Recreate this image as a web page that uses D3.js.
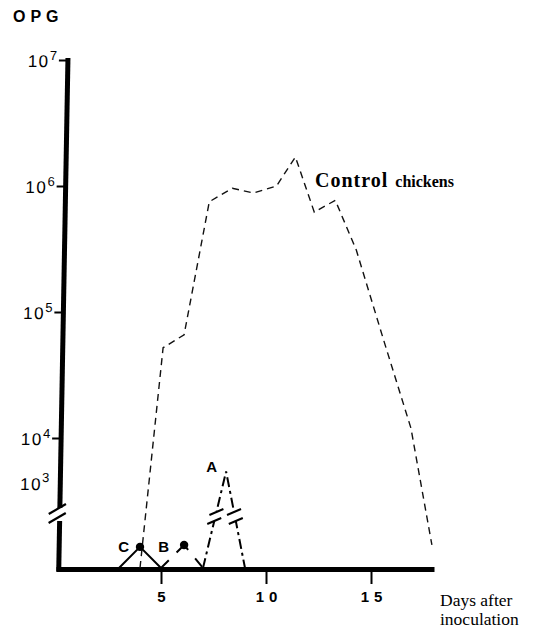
<!DOCTYPE html>
<html>
<head>
<meta charset="utf-8">
<script src="https://cdnjs.cloudflare.com/ajax/libs/d3/7.8.5/d3.min.js"></script>
<style>
	body { margin: 0; background: #fff; }
	svg { display: block; }
	.sans { font-family: "Liberation Sans", Arial, Helvetica, sans-serif; }
	.serif { font-family: "Liberation Serif", "Times New Roman", serif; }
	.x-axis text { font-family: "Liberation Sans", Arial, sans-serif; font-size: 15px; font-weight: bold; letter-spacing: 5px; fill: #000; }
	.y-axis text { font-family: "Liberation Sans", Arial, sans-serif; font-size: 17px; letter-spacing: 1.5px; fill: #000; }
</style>
</head>
<body>
<svg width="533" height="629"></svg>
<script>
// control chickens (dashed line)
var controlDays = [4, 5.1, 6.1, 7.3, 8.4, 9.4, 10.5, 11.4, 12.3, 13.3, 14.3, 15.6, 16.9, 17.9];
var controlOpg  = [0, 5.2e4, 6.6e4, 7.5e5, 9.6e5, 8.8e5, 1.0e6, 1.7e6, 6.2e5, 7.7e5, 3.1e5, 6.0e4, 1.2e4, 480];
// immunised groups
var cDays = [3, 4, 5],     cOpg = [0, 440, 0];
var bDays = [5, 6.1, 7],   bOpg = [0, 480, 0];
var aDays = [7, 8.1, 9],   aOpg = [0, 1800, 0];
var xTicks = [5, 10, 15];
var yTicks = [1e4, 1e5, 1e6, 1e7];
var yExp = ["4", "5", "6", "7"];

var svg = d3.select("svg");

//scales: upper log part, short part under the 10^4 tick, and the bit below the break
var x = d3.scaleLinear().domain([0, 18]).range([56, 434]);
var yUp = d3.scaleLog().domain([1e4, 1e7]).range([438, 60]);
var yMid = d3.scaleLog().domain([1e3, 1e4]).range([483, 438]);
var yLow = d3.scaleLinear().domain([0, 1000]).range([568, 520]);
function y(v) { return v >= 1e4 ? yUp(v) : (v >= 1e3 ? yMid(v) : yLow(v)); }

function pts(days, vals) { return days.map(function(d, i) { return [x(d), y(vals[i])]; }); }
var line = d3.line();

//x axis
var xg = svg.append("g")
	.attr("class", "x-axis")
	.attr("transform", "translate(0,569)")
	.call(d3.axisBottom(x).tickValues(xTicks).tickSize(15).tickSizeOuter(0).tickPadding(7));
xg.select(".domain").attr("stroke", "#000").attr("stroke-width", 5);
xg.selectAll(".tick line").attr("stroke", "#000").attr("stroke-width", 2);
xg.selectAll(".tick text").attr("dx", "2.5px");

//y axis (slightly slanted like the drawing)
var yg = svg.append("g")
	.attr("class", "y-axis")
	.attr("transform", "translate(69,0) skewX(-1.03)")
	.call(d3.axisLeft(yUp).tickValues(yTicks).tickSize(9).tickSizeOuter(0).tickFormat(""));
yg.select(".domain").remove();
yg.selectAll(".tick line").attr("stroke", "#000").attr("stroke-width", 2);
yg.selectAll(".tick text").attr("x", -11).attr("dy", "0.4em").each(function(d, i) {
	var t = d3.select(this);
	t.append("tspan").text("10");
	t.append("tspan").attr("dy", "-0.6em").style("font-size", "13px").style("letter-spacing", "0px").text(yExp[i]);
});
var t3 = yg.append("text").attr("x", -11).attr("y", yMid(1e3)).attr("dy", "0.4em").attr("text-anchor", "end");
t3.append("tspan").text("10");
t3.append("tspan").attr("dy", "-0.6em").style("font-size", "13px").style("letter-spacing", "0px").text("3");

yg.append("line").attr("x1", 0).attr("x2", 0).attr("y1", 58).attr("y2", 508)
	.attr("stroke", "#000").attr("stroke-width", 5);
yg.append("line").attr("x1", 0).attr("x2", 0).attr("y1", 521).attr("y2", 571.5)
	.attr("stroke", "#000").attr("stroke-width", 5);
[509, 518].forEach(function(b) {
	yg.append("line").attr("x1", -11).attr("y1", b + 5).attr("x2", 6).attr("y2", b - 5)
		.attr("stroke", "#000").attr("stroke-width", 2.2);
});

//control chickens
svg.append("path")
	.attr("d", line(pts(controlDays, controlOpg)))
	.attr("fill", "none").attr("stroke", "#111").attr("stroke-width", 1.4)
	.attr("stroke-dasharray", "7,5");

//group C solid, B dashed, A dash-dot
svg.append("path").attr("d", line(pts(cDays, cOpg)))
	.attr("fill", "none").attr("stroke", "#000").attr("stroke-width", 2);
svg.append("path").attr("d", line(pts(bDays, bOpg)))
	.attr("fill", "none").attr("stroke", "#000").attr("stroke-width", 2)
	.attr("stroke-dasharray", "11,11,17,11");
svg.append("path").attr("d", line(pts(aDays, aOpg)))
	.attr("fill", "none").attr("stroke", "#000").attr("stroke-width", 2)
	.attr("stroke-dasharray", "10,4,3,4");

//break marks on the A legs
var ap = pts(aDays, aOpg);
[[ap[0], ap[1]], [ap[2], ap[1]]].forEach(function(seg) {
	var p0 = seg[0], p1 = seg[1];
	function at(yy) { return p0[0] + (p1[0] - p0[0]) * (p0[1] - yy) / (p0[1] - p1[1]); }
	svg.append("line").attr("x1", at(521)).attr("y1", 521).attr("x2", at(511)).attr("y2", 511)
		.attr("stroke", "#fff").attr("stroke-width", 5);
	[521, 512].forEach(function(b) {
		var cx = at(b);
		svg.append("line").attr("x1", cx - 7).attr("y1", b + 3).attr("x2", cx + 7).attr("y2", b - 3)
			.attr("stroke", "#000").attr("stroke-width", 2);
	});
});

//dots on C and B
[[cDays, cOpg], [bDays, bOpg]].forEach(function(s) {
	svg.append("circle").attr("cx", x(s[0][1])).attr("cy", y(s[1][1])).attr("r", 4.2).attr("fill", "#000");
});

//group letters
svg.append("text").attr("class", "sans").attr("x", x(cDays[1]) - 11).attr("y", y(cOpg[1]) + 5)
	.attr("text-anchor", "end").style("font-size", "15px").style("font-weight", "bold").text("C");
svg.append("text").attr("class", "sans").attr("x", x(bDays[1]) - 15).attr("y", y(bOpg[1]) + 7)
	.attr("text-anchor", "end").style("font-size", "15px").style("font-weight", "bold").text("B");
svg.append("text").attr("class", "sans").attr("x", x(aDays[1]) - 9).attr("y", y(aOpg[1]))
	.attr("text-anchor", "end").style("font-size", "15px").style("font-weight", "bold").text("A");

//titles
svg.append("text").attr("class", "sans").attr("x", 13).attr("y", 22)
	.style("font-size", "16px").style("font-weight", "bold").style("letter-spacing", "5px").text("OPG");

var ctl = svg.append("text").attr("class", "serif").attr("x", 315).attr("y", 187).style("font-weight", "bold");
ctl.append("tspan").style("font-size", "20px").style("letter-spacing", "1px").text("Control");
ctl.append("tspan").attr("dx", "7px").style("font-size", "16px").text("chickens");

svg.append("text").attr("class", "serif").attr("x", 440).attr("y", 606).style("font-size", "17.5px").text("Days after");
svg.append("text").attr("class", "serif").attr("x", 440).attr("y", 625).style("font-size", "17.5px").text("inoculation");
</script>
</body>
</html>
